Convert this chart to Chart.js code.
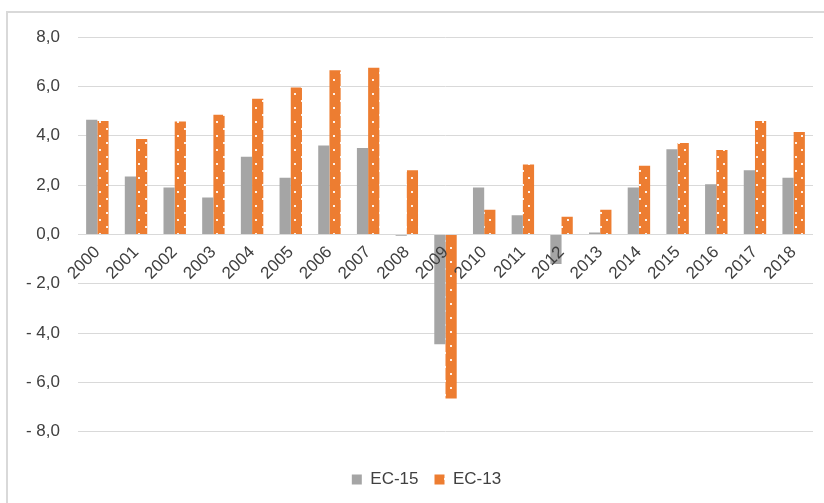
<!DOCTYPE html>
<html lang="en">
<head>
  <meta charset="UTF-8" />
  <title>EC-15 / EC-13</title>
  <script src="https://cdn.jsdelivr.net/npm/chart.js"></script>
  <style>
    html, body {
      margin: 0;
      padding: 0;
      background: #fff;
    }

    .wrap {
      position: relative;
      width: 824px;
      height: 503px;
      overflow: hidden;
    }

    .frame {
      position: absolute;
      left: 6px;
      top: 11px;
      width: 900px;
      height: 600px;
      border-left: 2px solid #d9d9d9;
      border-top: 2px solid #d9d9d9;
    }

    canvas {
      position: absolute;
      left: 0;
      top: 0;
    }
  </style>
</head>
<body>
  <div class="wrap">
    <div class="frame"></div>
    <canvas id="chart" width="824" height="503"></canvas>
  </div>

  <script>
    const years = ['2000', '2001', '2002', '2003', '2004', '2005', '2006', '2007', '2008', '2009',
                   '2010', '2011', '2012', '2013', '2014', '2015', '2016', '2017', '2018'];
    const ec15 = [4.65, 2.35, 1.9, 1.5, 3.15, 2.3, 3.6, 3.5, -0.05, -4.45,
                  1.9, 0.78, -1.2, 0.08, 1.9, 3.45, 2.03, 2.6, 2.3];
    const ec13 = [4.6, 3.87, 4.58, 4.85, 5.5, 5.95, 6.65, 6.75, 2.6, -6.65,
                  1.0, 2.83, 0.72, 1.0, 2.78, 3.7, 3.42, 4.6, 4.15];
    const yTicks = [-8, -6, -4, -2, 0, 2, 4, 6, 8];

    // orange with small white dots, like the Excel pattern fill
    function dotPattern() {
      const c = document.createElement('canvas');
      c.width = 13;
      c.height = 14;
      const g = c.getContext('2d');
      g.fillStyle = '#ed7d31';
      g.fillRect(0, 0, 13, 14);
      g.fillStyle = 'rgba(255,255,255,0.9)';
      g.fillRect(2, 2, 2, 2);
      g.fillRect(8, 9, 2, 2);
      return g.createPattern(c, 'repeat');
    }

    const fmt = v => (v < 0 ? '- ' : '') + Math.abs(v).toFixed(1).replace('.', ',');
    const font = { family: "'Liberation Sans', sans-serif", size: 17 };

    // centre the legend under the plot area rather than the whole canvas
    const legendShift = {
      id: 'legendShift',
      afterLayout(chart) {
        if (chart.legend) chart.legend.left = 40;
      }
    };

    new Chart(document.getElementById('chart'), {
      type: 'bar',
      data: {
        labels: years,
        datasets: [
          { label: 'EC-15', data: ec15, backgroundColor: '#a5a5a5' },
          { label: 'EC-13', data: ec13, backgroundColor: dotPattern() }
        ]
      },
      options: {
        responsive: false,
        animation: false,
        categoryPercentage: 0.58,
        barPercentage: 1.0,
        layout: { padding: { top: 37, right: 11, bottom: 5, left: 0 } },
        plugins: {
          legend: {
            position: 'bottom',
            // empty title only pushes the legend row down from the plot
            title: { display: true, text: '', font: { size: 1 }, padding: { top: 22, bottom: 0 } },
            labels: { boxWidth: 10, boxHeight: 10, color: '#404040', font: font, padding: 16 }
          },
          tooltip: { enabled: false }
        },
        scales: {
          x: {
            position: { y: 0 },
            grid: { display: false },
            border: { display: false },
            ticks: {
              z: 1,
              color: '#404040',
              font: font,
              autoSkip: false,
              minRotation: 45,
              maxRotation: 45,
              padding: 0
            }
          },
          y: {
            min: -8,
            max: 8,
            afterFit: s => { s.width = 78; },
            afterBuildTicks: s => { s.ticks = yTicks.map(v => ({ value: v })); },
            grid: { color: '#d9d9d9', drawTicks: false },
            border: { display: false },
            ticks: { color: '#404040', font: font, padding: 18, callback: fmt }
          }
        }
      },
      plugins: [legendShift]
    });
  </script>
</body>
</html>
